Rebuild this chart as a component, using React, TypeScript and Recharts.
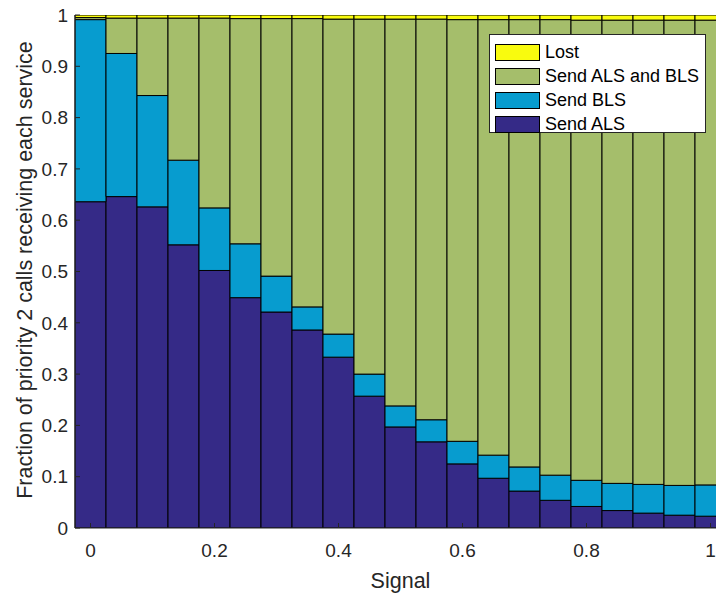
import { BarChart, Bar, XAxis, YAxis } from "recharts"

const signals = ["0", "0.05", "0.1", "0.15", "0.2", "0.25", "0.3", "0.35", "0.4", "0.45", "0.5",
  "0.55", "0.6", "0.65", "0.7", "0.75", "0.8", "0.85", "0.9", "0.95", "1"]

const sendAls = [0.636, 0.646, 0.626, 0.552, 0.502, 0.449, 0.421, 0.386, 0.333, 0.257, 0.197,
  0.168, 0.125, 0.097, 0.072, 0.054, 0.042, 0.034, 0.029, 0.025, 0.023]
const sendBls = [0.355, 0.279, 0.217, 0.165, 0.122, 0.105, 0.070, 0.045, 0.045, 0.043, 0.041,
  0.043, 0.044, 0.045, 0.047, 0.049, 0.051, 0.053, 0.056, 0.058, 0.061]
const sendBoth = [0.004, 0.069, 0.151, 0.277, 0.370, 0.439, 0.502, 0.562, 0.614, 0.692, 0.754,
  0.781, 0.822, 0.849, 0.872, 0.888, 0.897, 0.903, 0.905, 0.907, 0.906]
const lost = [0.005, 0.006, 0.006, 0.006, 0.006, 0.007, 0.007, 0.007, 0.008, 0.008, 0.008,
  0.008, 0.009, 0.009, 0.009, 0.009, 0.010, 0.010, 0.010, 0.010, 0.010]

const xTicks = ["0", "0.2", "0.4", "0.6", "0.8", "1"]
const yTicks = [0, 0.1, 0.2, 0.3, 0.4, 0.5, 0.6, 0.7, 0.8, 0.9, 1]

const series = [
  { key: "als", name: "Send ALS", color: "#352A87" },
  { key: "bls", name: "Send BLS", color: "#079CCF" },
  { key: "both", name: "Send ALS and BLS", color: "#A5BE6B" },
  { key: "lost", name: "Lost", color: "#F9FB0E" },
]

const data = signals.map((s, i) => ({
  signal: s,
  als: sendAls[i],
  bls: sendBls[i],
  both: sendBoth[i],
  lost: lost[i],
}))

const font = "'Liberation Sans', Arial, sans-serif"
const axisColor = "#262626"

// legend sits over the plot, top right, last series first
const LegendBox = () => (
  <div
    style={{
      position: "absolute",
      left: 489,
      top: 34,
      width: 217,
      height: 99,
      background: "#fff",
      border: `1px solid ${axisColor}`,
      boxSizing: "border-box",
      padding: "5px 0 0 5px",
      fontFamily: font,
      fontSize: 18,
      lineHeight: "24px",
      color: "#000",
    }}
  >
    {[...series].reverse().map((s) => (
      <div key={s.key} style={{ display: "flex", alignItems: "center", height: 24, whiteSpace: "nowrap" }}>
        <div
          style={{
            flex: "none",
            width: 45,
            height: 17,
            background: s.color,
            border: "1px solid #000",
            boxSizing: "border-box",
            marginRight: 5,
          }}
        />
        <span>{s.name}</span>
      </div>
    ))}
  </div>
)

const YLabel = () => (
  <text
    x={24}
    y={270}
    transform="rotate(-90 24 270)"
    textAnchor="middle"
    dy="0.35em"
    fontFamily={font}
    fontSize={21.5}
    fill={axisColor}
  >
    Fraction of priority 2 calls receiving each service
  </text>
)

export default function App() {
  return (
    <div
      style={{
        position: "absolute",
        left: 0,
        top: 0,
        width: 716,
        height: 595,
        overflow: "hidden",
        background: "#fff",
      }}
    >
      <BarChart
        width={726}
        height={595}
        data={data}
        margin={{ top: 15, right: 0, bottom: 0, left: 0 }}
        barCategoryGap={0}
      >
        {series.map((s) => (
          <Bar
            key={s.key}
            dataKey={s.key}
            name={s.name}
            stackId="a"
            fill={s.color}
            stroke="#000"
            strokeWidth={1}
            isAnimationActive={false}
          />
        ))}
        <XAxis
          dataKey="signal"
          ticks={xTicks}
          interval={0}
          height={67}
          tickSize={-5}
          tickMargin={21}
          stroke={axisColor}
          tick={{ fill: axisColor, fontSize: 19, fontFamily: font }}
          label={{
            value: "Signal",
            position: "insideBottom",
            offset: 7,
            fill: axisColor,
            fontSize: 21.5,
            fontFamily: font,
          }}
        />
        <XAxis
          xAxisId="top"
          orientation="top"
          dataKey="signal"
          ticks={xTicks}
          interval={0}
          height={0}
          tickSize={-5}
          tick={false}
          stroke={axisColor}
        />
        <YAxis
          width={75}
          domain={[0, 1]}
          ticks={yTicks}
          allowDataOverflow
          tickSize={-5}
          tickMargin={12}
          stroke={axisColor}
          tick={{ fill: axisColor, fontSize: 19, fontFamily: font }}
          label={{ content: () => <YLabel /> }}
        />
      </BarChart>
      <LegendBox />
    </div>
  )
}
